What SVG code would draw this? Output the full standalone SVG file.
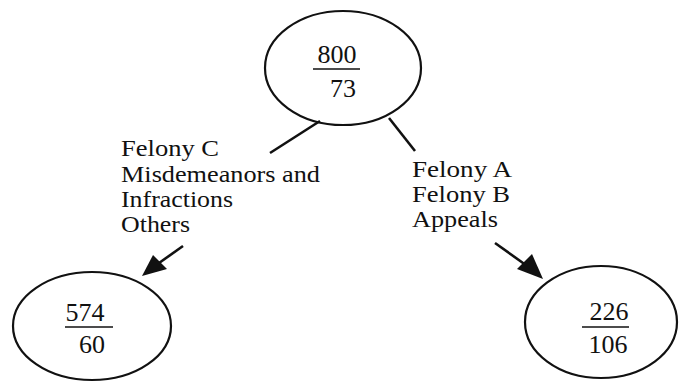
<svg xmlns="http://www.w3.org/2000/svg" width="679" height="382" viewBox="0 0 679 382">
<defs>
<style>
.node{fill:none;stroke:#111;stroke-width:2.2}
.num{font-family:"Liberation Serif",serif;font-size:26px;fill:#111}
.lbl{font-family:"Liberation Serif",serif;font-size:24px;fill:#111}
.rule{stroke:#111;stroke-width:1.3}
.edge{stroke:#111;stroke-width:2.6;fill:none}
</style>
</defs>
<rect width="679" height="382" fill="#fff"/>
<g id="connectors">
<line class="edge" x1="320" y1="121" x2="270" y2="153"/>
<line class="edge" x1="389" y1="118" x2="415" y2="151"/>
<line class="edge" x1="183" y1="246" x2="152" y2="268"/>
<path d="M142,276 L153,255 L167,269 Z" fill="#111"/>
<line class="edge" x1="495" y1="243" x2="530" y2="268"/>
<path d="M543,279 L517,269 L532,254 Z" fill="#111"/>
</g>
<g id="label-left">
<text class="lbl" x="121" y="156" textLength="98" lengthAdjust="spacingAndGlyphs">Felony C</text>
<text class="lbl" x="121" y="182" textLength="199" lengthAdjust="spacingAndGlyphs">Misdemeanors and</text>
<text class="lbl" x="121" y="207" textLength="112" lengthAdjust="spacingAndGlyphs">Infractions</text>
<text class="lbl" x="121" y="232" textLength="69" lengthAdjust="spacingAndGlyphs">Others</text>
</g>
<g id="label-right">
<text class="lbl" x="412" y="177" textLength="100" lengthAdjust="spacingAndGlyphs">Felony A</text>
<text class="lbl" x="412" y="202" textLength="98" lengthAdjust="spacingAndGlyphs">Felony B</text>
<text class="lbl" x="412" y="227" textLength="86" lengthAdjust="spacingAndGlyphs">Appeals</text>
</g>
<g id="node-top">
<ellipse class="node" cx="343" cy="68" rx="78" ry="57"/>
<text class="num" x="337" y="63" text-anchor="middle">800</text>
<line class="rule" x1="313" y1="69" x2="360" y2="69"/>
<text class="num" x="343" y="97" text-anchor="middle">73</text>
</g>
<g id="node-left">
<ellipse class="node" cx="92" cy="326" rx="79" ry="54"/>
<text class="num" x="85" y="321" text-anchor="middle">574</text>
<line class="rule" x1="65" y1="327" x2="113" y2="327"/>
<text class="num" x="92" y="353" text-anchor="middle">60</text>
</g>
<g id="node-right">
<ellipse class="node" cx="601" cy="322" rx="76" ry="56"/>
<text class="num" x="609" y="320" text-anchor="middle">226</text>
<line class="rule" x1="582" y1="327" x2="629" y2="327"/>
<text class="num" x="608" y="353" text-anchor="middle">106</text>
</g>
</svg>
